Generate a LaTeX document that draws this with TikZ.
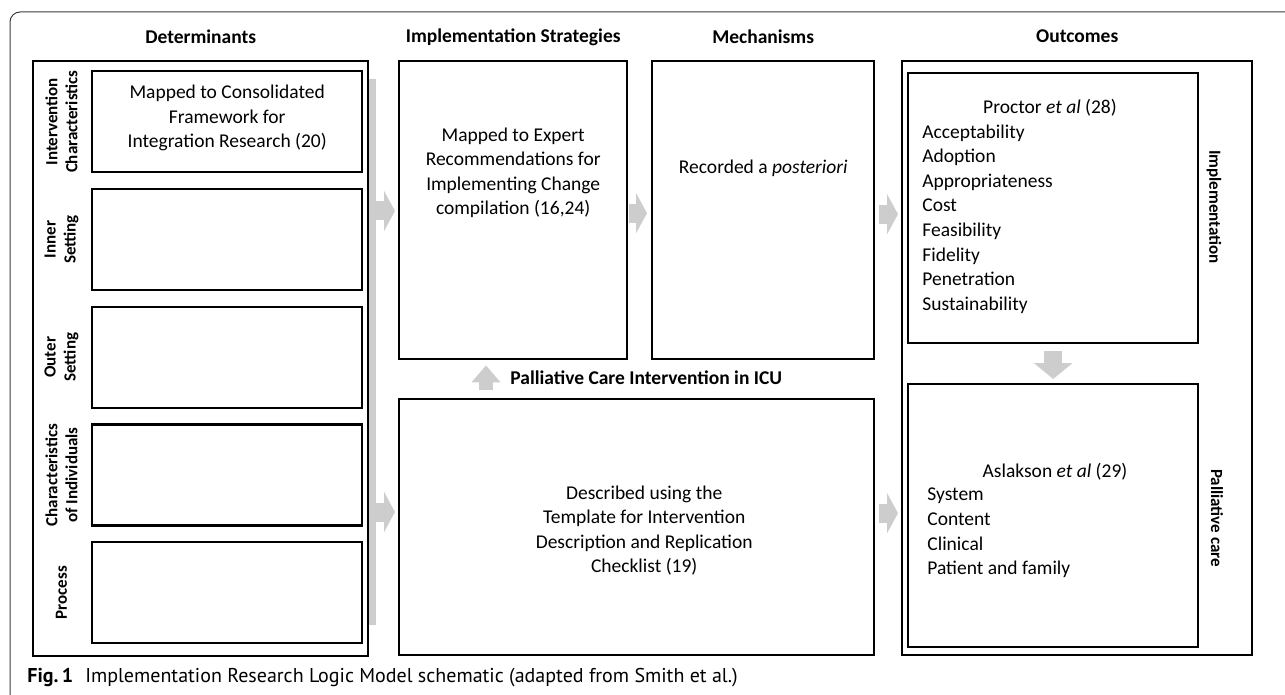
\documentclass[tikz,border=0pt]{standalone}
\usepackage{fontspec}
\setmainfont{Carlito}
\newfontfamily\capfont{PT Sans}
\usetikzlibrary{positioning,arrows.meta}
\definecolor{arrowGray}{RGB}{205,205,205}
\definecolor{frameGray}{RGB}{60,60,60}

\begin{document}
\begin{tikzpicture}[x=1pt, y=-1pt, thick,
    box/.style={draw, line width=2.4pt, inner sep=0pt, anchor=north west},
    boxtext/.style={align=center, inner sep=0pt, font=\fontsize{19.5pt}{24.5pt}\selectfont},
    listtext/.style={align=left, inner sep=0pt, font=\fontsize{19.5pt}{24.6pt}\selectfont},
    coltitle/.style={inner sep=0pt, font=\bfseries\fontsize{19.5pt}{24pt}\selectfont},
    sidelab/.style={align=center, inner sep=0pt, font=\bfseries\fontsize{17pt}{20pt}\selectfont},
    garrow/.style={draw=arrowGray, line width=19pt, -{Triangle[length=11pt, width=40pt]}},
    garrowV/.style={draw=arrowGray, line width=14pt, -{Triangle[length=17pt, width=28pt]}},
    garrowD/.style={draw=arrowGray, line width=18pt, -{Triangle[length=16pt, width=38pt]}}]
    \useasboundingbox (0,0) rectangle (1285,695);
    % figure frame
    \draw[frameGray, line width=1pt, rounded corners=10pt] (10,695) -- (10,12) -- (1285,12);

    % determinants
    \node[box, minimum width=335pt, minimum height=595pt] (det) at (32,60) {};
    \foreach \i/\lab in {1/{Intervention\\Characteristics}, 2/{Inner\\Setting},
        3/{Outer\\Setting}, 4/{Characteristics\\of Individuals}, 5/{Process}} {
        \node[box, minimum width=270pt, minimum height=101pt] (d\i) at (91,{70+(\i-1)*117.75}) {};
        \node[sidelab, rotate=90] (l\i) at ([xshift=-29.5pt]d\i.west) {\lab};
    }
    \node[boxtext] (d1txt) at ([yshift=3.5pt]d1.center) {Mapped to Consolidated\\Framework for\\Integration Research (20)};

    % strategies, mechanisms, intervention
    \node[box, minimum width=228pt, minimum height=298pt] (strat) at (398,60) {};
    \node[box, minimum width=222pt, minimum height=298pt] (mech) at (651,60) {};
    \node[box, minimum width=475pt, minimum height=256pt] (tidier) at (398,398) {};
    \node[boxtext] (strattxt) at ([yshift=37.5pt]strat.center) {Mapped to Expert\\Recommendations for\\Implementing Change\\compilation (16,24)};
    \node[boxtext] (mechtxt) at ([yshift=42pt]mech.center) {Recorded a \textit{posteriori}};
    \node[boxtext] (tidiertxt) at ([xshift=7.5pt, yshift=-3.5pt]tidier.center) {Described using the\\Template for Intervention\\Description and Replication\\Checklist (19)};
    \node[coltitle, anchor=west] (pci) at (510,378) {Palliative Care Intervention in ICU};

    % outcomes
    \node[box, minimum width=350pt, minimum height=594pt] (outc) at (901,60) {};
    \node[box, minimum width=290pt, minimum height=270pt] (impl) at (907,72) {};
    \node[box, minimum width=290pt, minimum height=263pt] (pall) at (907,383) {};
    \node[boxtext] (proctor) at (1050,108) {Proctor \textit{et al} (28)};
    \node[listtext, anchor=west] (implist) at (922,219) {Acceptability\\Adoption\\Appropriateness\\Cost\\Feasibility\\Fidelity\\Penetration\\Sustainability};
    \node[boxtext] (aslakson) at (1055,472) {Aslakson \textit{et al} (29)};
    \node[listtext, anchor=west] (palllist) at (927,533) {System\\Content\\Clinical\\Patient and family};
    \node[sidelab, rotate=-90] (limpl) at (1214,207) {Implementation};
    \node[sidelab, rotate=-90] (lpall) at (1217,518) {Palliative care};

    % column titles
    \node[coltitle] (tdet) at ([yshift=23pt]det.north) {Determinants};
    \node[coltitle] (tstrat) at ([yshift=23pt]strat.north) {Implementation Strategies};
    \node[coltitle] (tmech) at ([yshift=23pt]mech.north) {Mechanisms};
    \node[coltitle] (toutc) at ([yshift=24pt]outc.north) {Outcomes};

    % gray arrows
    \coordinate (barTop) at (372.5,79);
    \coordinate (barBot) at (372.5,625);
    \coordinate (b1) at (372.5,211);
    \coordinate (b2) at (372.5,512);
    \draw[arrowGray, line width=7pt] (barTop) -- (barBot);
    \draw[garrow, shorten >=3pt] (b1) -- (b1 -| strat.west);
    \draw[garrow, shorten >=3pt] (b2) -- (b2 -| tidier.west);
    \draw[garrow, shorten <=1pt, shorten >=4pt] ([yshift=-3pt]strat.east) -- ([yshift=-3pt]strat.east -| mech.west);
    \draw[garrow, shorten <=4pt, shorten >=3pt] ([yshift=-4pt]mech.east) -- ([yshift=-4pt]mech.east -| outc.west);
    \draw[garrow, shorten <=4pt, shorten >=3pt] ([yshift=14pt]tidier.east) -- ([yshift=14pt]tidier.east -| outc.west);
    \draw[garrowV, shorten <=8pt, shorten >=5pt] (tidier.north -| 486,0) -- (strat.south -| 486,0);
    \draw[garrowD, shorten <=7pt, shorten >=4pt] (impl.south) -- (pall.north);

    % caption
    \node[anchor=west, inner sep=0pt, font=\capfont\fontsize{20pt}{23pt}\selectfont] (cap) at (27,678) {\textbf{Fig.\,1}\hspace{0.6em}Implementation Research Logic Model schematic (adapted from Smith et al.)};
\end{tikzpicture}
\end{document}
